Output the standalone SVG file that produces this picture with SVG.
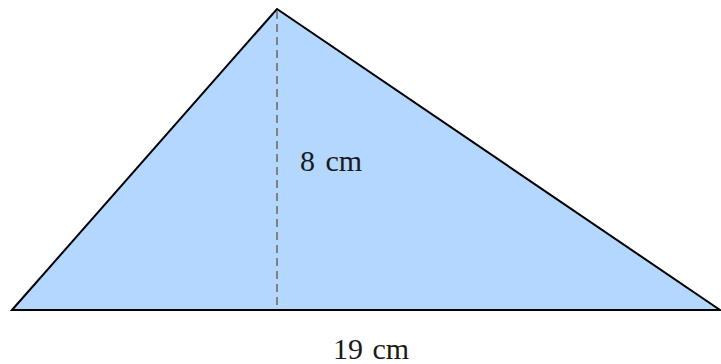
<svg xmlns="http://www.w3.org/2000/svg" width="721" height="364" viewBox="0 0 721 364">
<style>
.lbl{font-family:"Liberation Serif","DejaVu Serif",serif;font-size:30px;fill:#1a1a1a}
</style>
<rect width="721" height="364" fill="#ffffff"/>
<g id="triangle">
<polygon points="12,310 277,9 720,310" fill="#b3d7ff" stroke="#000" stroke-width="2" stroke-linejoin="miter"/>
</g>
<g id="connectors">
<line x1="277" y1="11" x2="277" y2="309" stroke="#808080" stroke-width="2" stroke-dasharray="8,5"/>
</g>
<g id="height-label"><text class="lbl" x="300" y="171" word-spacing="3">8 cm</text></g>
<g id="base-label"><text class="lbl" x="333" y="359" word-spacing="2">19 cm</text></g>
</svg>
